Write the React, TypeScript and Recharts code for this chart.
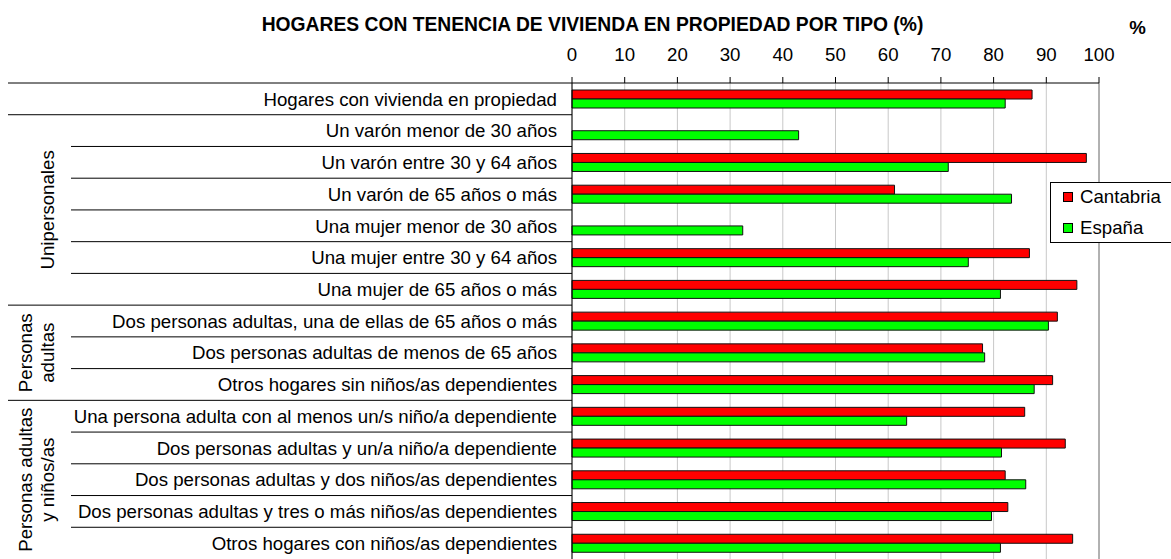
import React from 'react'
import {
  BarChart,
  Bar,
  XAxis,
  YAxis,
  CartesianGrid,
  Legend,
  ReferenceLine,
} from 'recharts'

const categories = [
  'Hogares con vivienda en propiedad',
  'Un varón menor de 30 años',
  'Un varón entre 30 y 64 años',
  'Un varón de 65 años o más',
  'Una mujer menor de 30 años',
  'Una mujer entre 30 y 64 años',
  'Una mujer de 65 años o más',
  'Dos personas adultas, una de ellas de 65 años o más',
  'Dos personas adultas de menos de 65 años',
  'Otros hogares sin niños/as dependientes',
  'Una persona adulta con al menos un/s niño/a dependiente',
  'Dos personas adultas y un/a niño/a dependiente',
  'Dos personas adultas y dos niños/as dependientes',
  'Dos personas adultas y tres o más niños/as dependientes',
  'Otros hogares con niños/as dependientes',
]

const cantabria = [87.3, null, 97.6, 61.2, null, 86.8, 95.8, 92.1, 77.9, 91.2, 85.9, 93.6, 82.2, 82.7, 95.0]
const espana = [82.2, 43.0, 71.4, 83.4, 32.4, 75.2, 81.3, 90.4, 78.3, 87.7, 63.5, 81.5, 86.1, 79.6, 81.3]

const xTicks = [0, 10, 20, 30, 40, 50, 60, 70, 80, 90, 100]

// row groups shown as rotated labels on the far left
const groups = [
  { lines: ['Unipersonales'], first: 1, last: 6 },
  { lines: ['Personas', 'adultas'], first: 7, last: 9 },
  { lines: ['Personas adultas', 'y niños/as'], first: 10, last: 14 },
]

const title = 'HOGARES CON TENENCIA DE VIVIENDA EN PROPIEDAD POR TIPO (%)'

const data = categories.map((name, i) => ({
  name,
  cantabria: cantabria[i],
  espana: espana[i],
}))

const FONT = '"Liberation Sans", Arial, sans-serif'
const FS = 18.67

function CategoryTick(props: any) {
  const { x, y, payload } = props
  const i = payload?.index ?? props.index
  const half = payload?.offset ?? 476 / categories.length / 2
  const top = y - half
  const axisX = x + 15
  const boundary = i === 0 || groups.some((g) => g.first === i)
  const group = groups.find((g) => g.first === i)
  return (
    <g>
      <line x1={boundary ? 8 : 71} x2={axisX} y1={top} y2={top} stroke="#000" />
      <text
        x={x}
        y={y}
        dy="0.36em"
        textAnchor="end"
        fontSize={FS}
        fontFamily={FONT}
        fill="#000"
      >
        {payload.value}
      </text>
      {group &&
        group.lines.map((ln, k) => {
          const cx = 47.5 - (group.lines.length - 1 - k) * 22
          const cy = top + (group.last - group.first + 1) * half
          return (
            <text
              key={k}
              x={cx}
              y={cy}
              dy="0.36em"
              transform={`rotate(-90 ${cx} ${cy})`}
              textAnchor="middle"
              fontSize={FS}
              fontFamily={FONT}
              fill="#000"
            >
              {ln}
            </text>
          )
        })}
    </g>
  )
}

function LegendBox({ payload }: any) {
  return (
    <div
      style={{
        width: 130,
        height: 61,
        boxSizing: 'border-box',
        border: '1px solid #000',
        background: '#fff',
        paddingTop: 3,
        fontFamily: FONT,
        fontSize: FS,
        color: '#000',
      }}
    >
      {(payload || []).map((p: any, k: number) => (
        <div
          key={k}
          style={{
            height: 22,
            lineHeight: '22px',
            marginBottom: 9,
            display: 'flex',
            alignItems: 'center',
          }}
        >
          <span
            style={{
              display: 'inline-block',
              width: 10,
              height: 10,
              boxSizing: 'border-box',
              border: '1px solid #000',
              background: p.color,
              marginLeft: 12,
              marginRight: 7,
            }}
          />
          <span>{p.value}</span>
        </div>
      ))}
    </div>
  )
}

export default function App() {
  return (
    <div
      style={{
        position: 'absolute',
        left: 0,
        top: 0,
        width: 1171,
        height: 559,
        overflow: 'hidden',
        background: '#fff',
        fontFamily: FONT,
      }}
    >
      <div
        style={{
          position: 'absolute',
          left: 0,
          width: 1185,
          top: 15,
          lineHeight: '20px',
          textAlign: 'center',
          fontWeight: 'bold',
          fontSize: 19.3,
          color: '#000',
          zIndex: 2,
        }}
      >
        {title}
      </div>
      <div
        style={{
          position: 'absolute',
          left: 1125,
          width: 25,
          top: 18,
          lineHeight: '20px',
          textAlign: 'center',
          fontWeight: 'bold',
          fontSize: FS,
          color: '#000',
          zIndex: 2,
        }}
      >
        %
      </div>
      <BarChart
        width={1171}
        height={559}
        data={data}
        layout="vertical"
        margin={{ top: 43, right: 72, bottom: 0, left: 0 }}
        barSize={9}
        barGap={0}
      >
        <CartesianGrid horizontal={false} stroke="#c8c8c8" />
        <XAxis
          type="number"
          orientation="top"
          domain={[0, 100]}
          ticks={xTicks}
          interval={0}
          height={40}
          axisLine={{ stroke: '#000' }}
          tickLine={{ stroke: '#000' }}
          tickSize={6}
          tickMargin={16}
          tick={{ fill: '#000', fontSize: FS, fontFamily: FONT }}
        />
        <YAxis
          type="category"
          dataKey="name"
          width={572}
          interval={0}
          axisLine={{ stroke: '#000' }}
          tickLine={false}
          tickSize={0}
          tickMargin={15}
          tick={<CategoryTick />}
        />
        <ReferenceLine x={100} stroke="#808080" />
        <Legend
          layout="horizontal"
          align="center"
          verticalAlign="middle"
          content={<LegendBox />}
          wrapperStyle={{ left: 1050, top: 182, width: 'auto' }}
        />
        <Bar
          dataKey="cantabria"
          name="Cantabria"
          fill="#FF0000"
          stroke="#111"
          strokeWidth={1}
          isAnimationActive={false}
        />
        <Bar
          dataKey="espana"
          name="España"
          fill="#00FF00"
          stroke="#111"
          strokeWidth={1}
          isAnimationActive={false}
        />
      </BarChart>
    </div>
  )
}
